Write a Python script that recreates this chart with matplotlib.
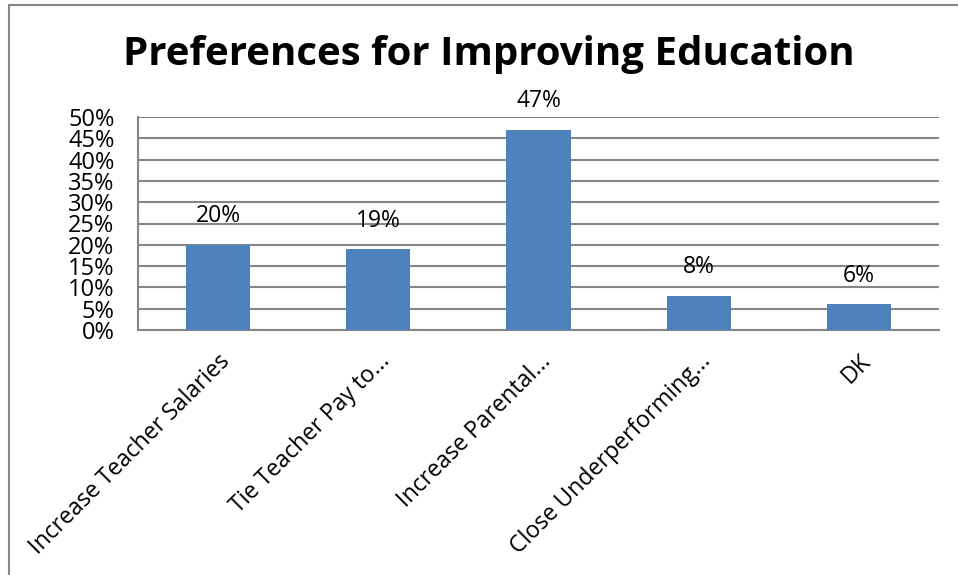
import matplotlib.pyplot as plt
from matplotlib.patches import Rectangle

categories = ['Increase Teacher Salaries', 'Tie Teacher Pay to...', 'Increase Parental...',
              'Close Underperforming...', 'DK']
values = [20, 19, 47, 8, 6]
yticks = [0, 5, 10, 15, 20, 25, 30, 35, 40, 45, 50]

plt.rcParams['font.family'] = ['Open Sans', 'DejaVu Sans']

fig = plt.figure(figsize=(9.58, 5.75), dpi=100)
ax = fig.add_axes([138 / 958, 1 - 330 / 575, 801 / 958, 213 / 575])

x = range(len(categories))
ax.bar(x, values, width=0.4, color='#4f81bd', zorder=3)
for i, v in zip(x, values):
    ax.text(i, v + 6.7, f'{v}%', ha='center', va='center', fontsize=16.5)

ax.set_xlim(-0.5, len(categories) - 0.5)
ax.set_ylim(0, 50)
ax.set_yticks(yticks)
ax.set_yticklabels([f'{t}%' for t in yticks], fontsize=17)
ax.set_xticks(list(x))
ax.set_xticklabels(categories, rotation=45, ha='right', rotation_mode='anchor', fontsize=16.7)
ax.tick_params(axis='y', length=0, pad=17)
ax.tick_params(axis='x', length=0, pad=14)
ax.grid(axis='y', color='#868686', linewidth=1.5, zorder=0)
for s in ['top', 'right']:
    ax.spines[s].set_visible(False)
for s in ['left', 'bottom']:
    ax.spines[s].set_color('#868686')
    ax.spines[s].set_linewidth(1.5)

fig.text(489 / 958, 1 - 55 / 575, 'Preferences for Improving Education', ha='center', va='center',
         fontsize=29, fontweight='bold')

# outer chart border
fig.patches.append(Rectangle((9 / 958, -0.05), 1.1, 1.05 - 5 / 575, transform=fig.transFigure,
                             fill=False, edgecolor='#868686', linewidth=1.5))

fig.savefig('out.png', dpi=100)
